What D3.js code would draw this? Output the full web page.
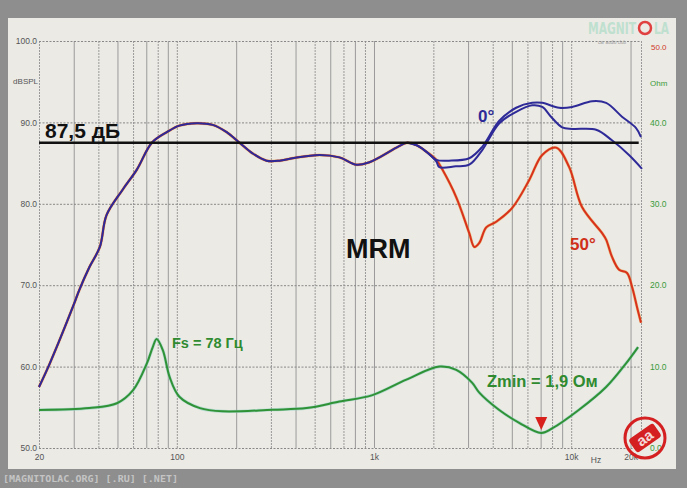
<!DOCTYPE html>
<html><head><meta charset="utf-8">
<script src="https://cdn.jsdelivr.net/npm/d3@7"></script>
<style>body{margin:0;background:#8e8e8e;} svg{display:block}</style>
</head><body><svg id="c" width="687" height="488"></svg>
<script>
// ---- data ----
const deg0Freq = [20, 22.7, 30, 32, 36, 40.7, 44, 53, 62.7, 74.7, 89, 103, 126, 152, 179, 208, 242, 285, 332, 386, 530, 668, 816, 948, 1066, 1300, 1477, 1640, 1843, 2070, 2400, 3041, 3540, 4320, 5260, 6340, 7130, 8690, 10120, 12770, 15040, 18100, 21340, 22600];
const deg0Db   = [57.5, 60.4, 67.6, 69.4, 72.2, 74.7, 78.6, 81.7, 84.2, 87.5, 88.8, 89.6, 89.9, 89.7, 88.8, 87.5, 86.2, 85.3, 85.3, 85.6, 86.0, 85.7, 84.8, 85.1, 85.7, 86.9, 87.5, 87.2, 86.4, 85.4, 85.3, 85.6, 87.0, 90.2, 91.8, 92.4, 92.4, 91.8, 91.9, 92.6, 92.4, 90.7, 89.3, 88.2];

const deg30Freq = [1477, 1640, 1843, 2070, 2144, 2600, 3041, 3540, 4320, 5260, 6340, 7130, 7900, 9000, 10120, 13380, 16100, 19640, 22870];
const deg30Db   = [87.5, 87.2, 86.4, 85.2, 84.5, 84.6, 84.8, 86.6, 89.9, 91.3, 92.1, 91.9, 90.7, 89.4, 89.2, 89.1, 87.8, 86.0, 84.3];

const deg50Freq = [20, 22.7, 30, 32, 36, 40.7, 44, 53, 62.7, 74.7, 89, 103, 126, 152, 179, 208, 242, 285, 332, 386, 530, 668, 816, 948, 1066, 1300, 1477, 1640, 1843, 2070, 2223, 2614, 3041, 3228, 3420, 3708, 4168, 5024, 6120, 7130, 8395, 9770, 11350, 14350, 15040, 16100, 17500, 19200, 20350, 21580, 22600];
const deg50Db   = [57.5, 60.4, 67.6, 69.4, 72.2, 74.7, 78.6, 81.7, 84.2, 87.5, 88.8, 89.6, 89.9, 89.7, 88.8, 87.5, 86.2, 85.3, 85.3, 85.6, 86.0, 85.7, 84.8, 85.1, 85.7, 86.9, 87.5, 87.2, 86.4, 85.4, 84.2, 80.8, 76.4, 74.7, 75.2, 77.1, 77.8, 79.5, 82.9, 86.0, 86.9, 84.5, 79.6, 76.4, 75.6, 73.5, 71.9, 71.5, 69.8, 67.3, 65.4];

const impFreq = [20, 36, 49.7, 60, 70.5, 75.5, 79, 85, 92, 103, 131, 171, 306, 455, 668, 982, 1460, 2144, 2614, 3150, 3420, 4300, 5450, 7050, 8000, 10960, 15040, 18980, 21840];
const impOhm  = [4.67, 4.9, 5.5, 7.1, 10.4, 12.4, 13.4, 12.0, 8.7, 6.3, 4.9, 4.5, 4.7, 4.9, 5.7, 6.5, 8.4, 10.0, 9.6, 8.0, 6.8, 4.7, 3.1, 1.84, 2.4, 4.7, 7.5, 10.4, 12.4];

const splTicks = [50, 60, 70, 80, 90, 100];
const ohmTicks = [0, 10, 20, 30, 40];
const freqLabels = [20, 100, 1000, 10000, 20000];
const freqLabelText = ["20", "100", "1k", "10k", "20k"];
const refLevel = 87.5;
const zMinFreq = 7050, zMinOhm = 1.84;

// ---- scales ----
const svg = d3.select("#c");
const x = d3.scaleLog().domain([20, 22600]).range([39, 641]);
const y = d3.scaleLinear().domain([50, 100]).range([448, 41]);
const z = d3.scaleLinear().domain([0, 50]).range([448, 41]);

// background
svg.append("rect").attr("width", 687).attr("height", 488).attr("fill", "#8e8e8e");
svg.append("rect").attr("x", 8).attr("y", 18).attr("width", 668).attr("height", 451).attr("fill", "#ebeae5");

// grid
const gridFreqs = [];
[10, 100, 1000, 10000].forEach(d => { for (let k = 1; k <= 9; k++) { const f = k * d; if (f >= 20 && f <= 20000) gridFreqs.push(f); } });
gridFreqs.push(22600);
svg.append("g").attr("transform", "translate(0,448)")
  .call(d3.axisBottom(x).tickValues(gridFreqs).tickSize(-(448 - 41)).tickFormat(""))
  .call(g => g.select(".domain").remove())
  .call(g => g.selectAll("line").attr("stroke", "#9a9a9a").attr("stroke-width", 1).attr("stroke-dasharray", (d, i) => i % 2 ? null : "2,1"));
svg.append("g").attr("transform", "translate(39,0)")
  .call(d3.axisLeft(y).tickValues(splTicks).tickSize(-(641 - 39)).tickFormat(""))
  .call(g => g.select(".domain").remove())
  .call(g => g.selectAll("line").attr("stroke", "#888").attr("stroke-width", 1).attr("stroke-dasharray", "2,1.5"));

// axis labels
const lblFont = "Liberation Sans, Arial, sans-serif";
svg.append("g").attr("transform", "translate(39,0)")
  .call(d3.axisLeft(y).tickValues(splTicks).tickSize(0).tickPadding(2).tickFormat(d3.format(".1f")))
  .call(g => g.select(".domain").remove())
  .call(g => g.selectAll("text").attr("font-family", lblFont).attr("font-size", 8.5).attr("fill", "#555"));
svg.append("g").attr("transform", "translate(643,0)")
  .call(d3.axisRight(z).tickValues(ohmTicks).tickSize(0).tickPadding(7).tickFormat(d3.format(".1f")))
  .call(g => g.select(".domain").remove())
  .call(g => g.selectAll("text").attr("font-family", lblFont).attr("font-size", 8.5).attr("fill", "#3a9a3a"));
svg.append("g").attr("transform", "translate(0,448)")
  .call(d3.axisBottom(x).tickValues(freqLabels).tickSize(0).tickPadding(6).tickFormat((d, i) => freqLabelText[i]))
  .call(g => g.select(".domain").remove())
  .call(g => g.selectAll("text").attr("font-family", lblFont).attr("font-size", 8.5).attr("fill", "#555"));
svg.append("text").attr("x", 596).attr("y", 463).attr("text-anchor", "middle").attr("font-family", lblFont).attr("font-size", 8.5).attr("fill", "#555").text("Hz");
svg.append("text").attr("x", 38).attr("y", 84).attr("text-anchor", "end").attr("font-family", lblFont).attr("font-size", 8).attr("fill", "#555").text("dBSPL");
svg.append("text").attr("x", 650).attr("y", 86).attr("font-family", lblFont).attr("font-size", 8).attr("fill", "#3a9a3a").text("Ohm");
svg.append("text").attr("x", 651).attr("y", 50).attr("font-family", lblFont).attr("font-size", 8).attr("fill", "#d03a2a").text("50.0");

// curves
const lineSpl = d3.line().x(d => x(d[0])).y(d => y(d[1])).curve(d3.curveCatmullRom.alpha(0.5));
const lineImp = d3.line().x(d => x(d[0])).y(d => z(d[1])).curve(d3.curveCatmullRom.alpha(0.5));
const zip = (a, b) => a.map((v, i) => [v, b[i]]);

svg.append("path").attr("d", lineImp(zip(impFreq, impOhm))).attr("fill", "none").attr("stroke", "#8fd0c0").attr("stroke-width", 3.2).attr("opacity", 0.6);
svg.append("path").attr("d", lineImp(zip(impFreq, impOhm))).attr("fill", "none").attr("stroke", "#2f9236").attr("stroke-width", 2);

svg.append("path").attr("d", lineSpl(zip(deg50Freq, deg50Db))).attr("fill", "none").attr("stroke", "#f0a030").attr("stroke-width", 3).attr("opacity", 0.5);
svg.append("path").attr("d", lineSpl(zip(deg50Freq, deg50Db))).attr("fill", "none").attr("stroke", "#d8321c").attr("stroke-width", 2);
svg.append("path").attr("d", lineSpl(zip(deg30Freq, deg30Db))).attr("fill", "none").attr("stroke", "#2e2a98").attr("stroke-width", 2);
svg.append("path").attr("d", lineSpl(zip(deg0Freq, deg0Db))).attr("fill", "none").attr("stroke", "#2e2a98").attr("stroke-width", 2);

// reference line
svg.append("line").attr("x1", x(20)).attr("x2", x(22000)).attr("y1", y(refLevel)).attr("y2", y(refLevel)).attr("stroke", "#111").attr("stroke-width", 2.5);

// annotations
const bold = "Liberation Sans, Arial, sans-serif";
svg.append("text").attr("x", 45).attr("y", y(refLevel) - 5).attr("font-family", bold).attr("font-weight", "bold").attr("font-size", 21).attr("fill", "#111").text("87,5 дБ");
svg.append("text").attr("x", 346).attr("y", 258).attr("font-family", bold).attr("font-weight", "bold").attr("font-size", 27).attr("fill", "#111").text("MRM");
svg.append("text").attr("x", 478).attr("y", 122).attr("font-family", bold).attr("font-weight", "bold").attr("font-size", 17).attr("fill", "#2e2a98").text("0°");
svg.append("text").attr("x", 570).attr("y", 250).attr("font-family", bold).attr("font-weight", "bold").attr("font-size", 17).attr("fill", "#d03018").text("50°");
svg.append("text").attr("x", 172).attr("y", 348).attr("font-family", bold).attr("font-weight", "bold").attr("font-size", 14.5).attr("fill", "#2f8a30").text("Fs = 78 Гц");
svg.append("text").attr("x", 487).attr("y", 387).attr("font-family", bold).attr("font-weight", "bold").attr("font-size", 16.5).attr("fill", "#2f8a30").text("Zmin = 1,9 Ом");

// min marker
const mx = x(zMinFreq), my = z(zMinOhm) - 3;
svg.append("path").attr("d", `M${mx - 6},${my - 13}L${mx + 6},${my - 13}L${mx},${my}Z`).attr("fill", "#d8201c");

// logo bottom right
const lg = svg.append("g").attr("transform", "translate(645,438)");
lg.append("circle").attr("r", 20).attr("fill", "none").attr("stroke", "#d42020").attr("stroke-width", 3);
lg.append("g").attr("transform", "rotate(-35)").call(g => {
  g.append("rect").attr("x", -15).attr("y", -8).attr("width", 30).attr("height", 16).attr("rx", 3).attr("fill", "#d42020");
  g.append("text").attr("y", 5).attr("text-anchor", "middle").attr("font-family", bold).attr("font-weight", "bold").attr("font-size", 15).attr("fill", "#f4d8d8").text("aa");
});

// watermark top right
const wmFont = "DejaVu Sans Condensed, DejaVu Sans, sans-serif";
svg.append("text").attr("x", 588).attr("y", 34).attr("font-family", wmFont).attr("font-weight", "bold").attr("font-size", 16).attr("fill", "#bfe0cf").attr("textLength", 48).attr("lengthAdjust", "spacingAndGlyphs").text("MAGNIT");
svg.append("circle").attr("cx", 645).attr("cy", 28).attr("r", 6).attr("fill", "none").attr("stroke", "#e04040").attr("stroke-width", 2.5);
svg.append("text").attr("x", 654).attr("y", 34).attr("font-family", wmFont).attr("font-weight", "bold").attr("font-size", 16).attr("fill", "#bfe0cf").attr("textLength", 15).attr("lengthAdjust", "spacingAndGlyphs").text("LA");
svg.append("text").attr("x", 612).attr("y", 44).attr("text-anchor", "middle").attr("font-family", lblFont).attr("font-size", 4.5).attr("fill", "#999").text("car audio club");

// bottom-left site text
svg.append("text").attr("x", 3).attr("y", 482).attr("font-family", "DejaVu Sans Mono, monospace").attr("font-weight", "bold").attr("font-size", 9.5).attr("fill", "#c4c4c4").attr("textLength", 175).attr("lengthAdjust", "spacingAndGlyphs").text("[MAGNITOLAC.ORG] [.RU] [.NET]");
</script>
</body></html>
